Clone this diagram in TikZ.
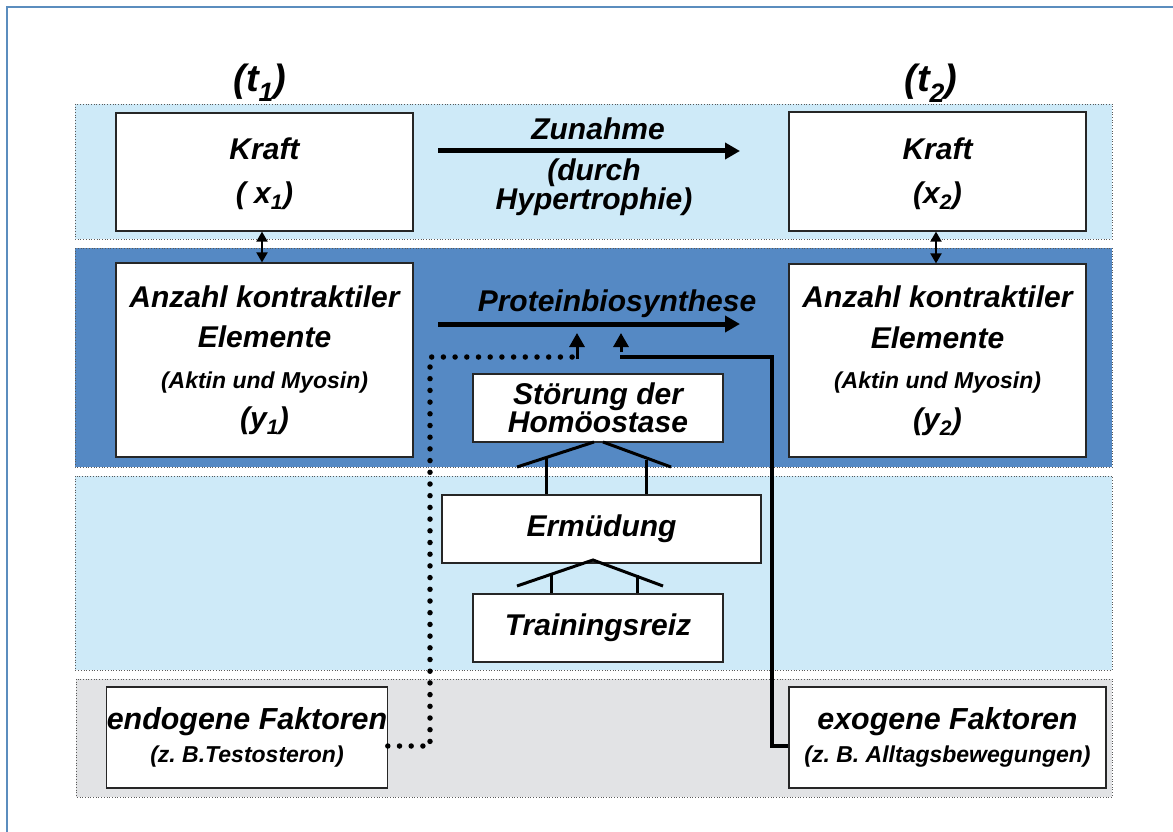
\documentclass[tikz,border=0pt]{standalone}
\usepackage{fontspec}
\setmainfont{Liberation Sans}
\usetikzlibrary{arrows.meta}
\definecolor{lightband}{RGB}{206,234,248}
\definecolor{darkband}{RGB}{85,137,196}
\definecolor{grayband}{RGB}{226,227,229}
\definecolor{framecol}{RGB}{91,141,190}
\frenchspacing
\begin{document}
\begin{tikzpicture}[x=1pt,y=-1pt,
  band/.style={draw=black!65, dotted, line width=0.7pt},
  box/.style={draw=black!85, line width=1.2pt, fill=white, inner sep=0pt, align=center, font=\bfseries\itshape},
  lbl/.style={inner sep=0pt, align=center, font=\bfseries\itshape\fontsize{30}{30}\selectfont},
  bigarrow/.style={line width=5pt, -{Triangle[length=15pt,width=16pt]}},
  dbl/.style={line width=2pt, {Triangle[length=10pt,width=11pt]}-{Triangle[length=10pt,width=11pt]}},
  roof/.style={line width=3pt},
  dotline/.style={line width=5.5pt, line cap=round, dash pattern=on 0pt off 11.7pt},
  solidline/.style={line width=4.3pt},
  upa/.style={line width=3pt, -{Triangle[length=14pt,width=15pt]}}
]
\useasboundingbox (0,0) rectangle (1173,832);
\fill[white] (0,0) rectangle (1173,832);
\draw[framecol, line width=1.5pt] (7,840) -- (7,7) -- (1180,7);

% bands
\filldraw[band, fill=lightband] (75,104) rectangle (1112,239);
\filldraw[band, fill=darkband] (75,248) rectangle (1112,467);
\filldraw[band, fill=lightband] (75,476) rectangle (1112,670);
\filldraw[band, fill=grayband] (76,679) rectangle (1112,797);

% time labels
\node[lbl, anchor=base, font=\bfseries\itshape\fontsize{38}{40}\selectfont] (t1) at (260,92) {(t\textsubscript{1})};
\node[lbl, anchor=base, font=\bfseries\itshape\fontsize{38}{40}\selectfont] (t2) at (931,92) {(t\textsubscript{2})};

% boxes
\node[box, minimum width=297pt, minimum height=118pt, font=\bfseries\itshape\fontsize{30}{44}\selectfont] (k1) at (264.5,172) {\rule{0pt}{26pt}Kraft\\( x\textsubscript{1})};
\node[box, minimum width=297pt, minimum height=119pt, font=\bfseries\itshape\fontsize{30}{44}\selectfont] (k2) at (937.5,171.5) {\rule{0pt}{26pt}Kraft\\(x\textsubscript{2})};
\node[box, minimum width=297pt, minimum height=194pt, font=\bfseries\itshape\fontsize{30}{40.5}\selectfont] (a1) at (264.5,360) {Anzahl kontraktiler\\Elemente\\{\fontsize{23}{24}\selectfont(Aktin und Myosin)}\\(y\textsubscript{1})};
\node[box, minimum width=297pt, minimum height=193pt, font=\bfseries\itshape\fontsize{30}{40.5}\selectfont] (a2) at (937.5,360.5) {Anzahl kontraktiler\\Elemente\\{\fontsize{23}{24}\selectfont(Aktin und Myosin)}\\(y\textsubscript{2})};
\node[box, minimum width=250pt, minimum height=68pt, font=\bfseries\itshape\fontsize{30}{26}\selectfont] (st) at (598,408) {Störung der\\Homöostase};
\node[box, minimum width=319pt, minimum height=68pt, font=\bfseries\itshape\fontsize{30}{30}\selectfont] (er) at (601.5,529) {Ermüdung};
\node[box, minimum width=250pt, minimum height=68pt, font=\bfseries\itshape\fontsize{30}{30}\selectfont] (tr) at (598,628) {Trainingsreiz};
\node[box, minimum width=280pt, minimum height=101pt, font=\bfseries\itshape\fontsize{30.4}{33}\selectfont] (en) at (247,737.5) {endogene Faktoren\\{\fontsize{23}{24}\selectfont (z. B.Testosteron)}};
\node[box, minimum width=317pt, minimum height=101pt, font=\bfseries\itshape\fontsize{30.4}{33}\selectfont] (ex) at (947.5,737.5) {exogene Faktoren\\{\fontsize{23}{24}\selectfont (z. B. Alltagsbewegungen)}};

% horizontal arrows
\coordinate (za) at (438,151);
\coordinate (zb) at (740,151);
\draw[bigarrow] (za) -- (zb);
\node[lbl, anchor=base] (zl) at (598,140) {Zunahme};
\node[lbl, font=\bfseries\itshape\fontsize{30}{25}\selectfont] (hl) at (594,187) {(durch\\Hypertrophie)};
\coordinate (pa) at (438,324);
\coordinate (pb) at (740,324);
\draw[bigarrow] (pa) -- (pb);
\node[lbl, anchor=base] (pl) at (617,311) {Proteinbiosynthese};

% double arrows
\draw[dbl] (k1.south -| 262,0) -- (a1.north -| 262,0);
\draw[dbl] (k2.south -| 936,0) -- (a2.north -| 936,0);

% roofs
\draw[roof] (517,467) -- (594,442);
\draw[roof] (603,442) -- (671,467);
\draw[roof] (546,458) -- (er.north -| 546,0);
\draw[roof] (646,460) -- (er.north -| 646,0);
\draw[roof] (517,586) -- (593,560) -- (663,586);
\draw[roof] (551,574) -- (tr.north -| 551,0);
\draw[roof] (637,575) -- (tr.north -| 637,0);

% endogene dotted connector
\coordinate (d1) at (430,746);
\coordinate (d2) at (430,357);
\coordinate (d3) at (574,357);
\coordinate (dt) at (577,333);
\draw[dotline] (en.east |- 0,746) -- (d1) -- (d2) -- (d3);
\draw[upa] (577,359) -- (dt);

% exogene solid connector
\coordinate (e1) at (772,746);
\coordinate (e2) at (772,357);
\coordinate (e3) at (620,357);
\coordinate (et) at (621,333);
\draw[solidline] (ex.west |- 0,746) -- (e1) -- (e2) -- (e3);
\draw[upa] (621,352) -- (et);
\end{tikzpicture}
\end{document}
